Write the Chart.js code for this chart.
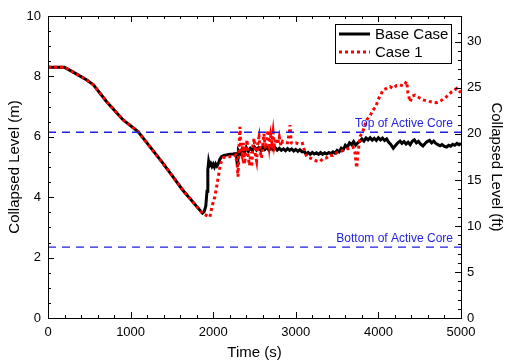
<!DOCTYPE html>
<html>
<head>
<meta charset="utf-8">
<script src="https://cdn.jsdelivr.net/npm/chart.js@4/dist/chart.umd.min.js"></script>
<style>
  html, body { margin: 0; padding: 0; background: #fff; }
  #wrap { width: 505px; height: 363px; }
</style>
</head>
<body>
<div id="wrap"><canvas id="levelChart"></canvas></div>
<script>
Chart.defaults.font.family = '"Liberation Sans", Arial, sans-serif';
Chart.defaults.color = '#000';

// ---- data ----
var baseTime = [0, 200, 300, 470, 550, 710, 910, 1090, 1390, 1480, 1630, 1870, 1890, 1910, 1925, 1935, 1945, 1955, 1970, 1985,
  2000, 2015, 2030, 2045, 2060, 2080, 2100, 2130, 2160, 2200, 2240, 2280, 2295, 2305, 2330, 2350, 2380, 2400, 2425, 2450,
  2475, 2500, 2525, 2550, 2575, 2600, 2625, 2650, 2675, 2700, 2725, 2750, 2775, 2800, 2825, 2850, 2875, 2900, 2925, 2950,
  2975, 3000, 3025, 3050, 3075, 3100, 3125, 3150, 3175, 3200, 3225, 3250, 3275, 3300, 3325, 3350, 3375, 3400, 3425, 3450,
  3475, 3500, 3525, 3550, 3575, 3600, 3625, 3650, 3675, 3700, 3725, 3750, 3775, 3800, 3825, 3850, 3875, 3900, 3925, 3950,
  3975, 4000, 4025, 4050, 4075, 4100, 4125, 4150, 4180, 4210, 4235, 4262, 4285, 4310, 4335, 4360, 4385, 4410, 4435, 4460,
  4485, 4510, 4540, 4565, 4590, 4620, 4645, 4670, 4695, 4720, 4746, 4770, 4800, 4826, 4850, 4875, 4900, 4925, 4950, 4975, 5000];
var baseLevel = [8.3, 8.3, 8.15, 7.88, 7.72, 7.16, 6.56, 6.17, 5.13, 4.8, 4.24, 3.47, 3.52, 3.7, 4.2, 4.9, 5.18, 5.05, 5.12, 5.02,
  5.1, 5.0, 5.1, 5.03, 5.1, 5.25, 5.34, 5.38, 5.4, 5.42, 5.43, 5.45, 5.0, 5.55, 5.45, 5.6, 5.5, 5.65, 5.52, 5.62,
  5.55, 5.66, 5.56, 5.64, 5.55, 5.66, 5.58, 5.65, 5.56, 5.63, 5.57, 5.64, 5.56, 5.62, 5.55, 5.6, 5.54, 5.61, 5.55, 5.6,
  5.53, 5.58, 5.52, 5.57, 5.5, 5.52, 5.43, 5.48, 5.42, 5.48, 5.43, 5.47, 5.42, 5.48, 5.42, 5.47, 5.43, 5.48, 5.44, 5.5,
  5.46, 5.55, 5.5, 5.62, 5.57, 5.72, 5.66, 5.8, 5.74, 5.84, 5.72, 5.8, 5.85, 5.93, 5.86, 5.96, 5.9, 5.97, 5.89, 5.95,
  5.88, 5.97, 5.9, 5.96, 5.88, 5.93, 5.82, 5.75, 5.62, 5.72, 5.8, 5.86, 5.78, 5.84, 5.76, 5.82, 5.74, 5.85, 5.9, 5.8,
  5.85, 5.76, 5.7, 5.78, 5.84, 5.88, 5.8, 5.86, 5.78, 5.74, 5.7, 5.74, 5.68, 5.66, 5.72, 5.69, 5.75, 5.72, 5.78, 5.74, 5.78];

var case1Time = [0, 200, 300, 470, 550, 710, 910, 1090, 1390, 1480, 1630, 1870, 1900, 1960, 1985, 2020, 2042, 2062, 2082, 2100,
  2122, 2160, 2200, 2240, 2270, 2290, 2300, 2310, 2324, 2335, 2350, 2365, 2380, 2395, 2410, 2425, 2440, 2455, 2466, 2480,
  2495, 2510, 2525, 2540, 2555, 2570, 2585, 2600, 2615, 2630, 2645, 2663, 2680, 2695, 2710, 2725, 2740, 2760, 2780, 2800,
  2820, 2840, 2870, 2900, 2920, 2930, 2945, 2970, 3000, 3040, 3080, 3110, 3132, 3170, 3210, 3250, 3293, 3330, 3370, 3414,
  3450, 3500, 3535, 3580, 3620, 3656, 3692, 3715, 3737, 3750, 3777, 3815, 3858, 3900, 3935, 3970, 3995, 4030, 4056, 4100,
  4140, 4180, 4220, 4262, 4300, 4342, 4358, 4383, 4410, 4443, 4490, 4540, 4600, 4650, 4705, 4760, 4826, 4887, 4948, 4988, 5000];
var case1Level = [8.3, 8.3, 8.15, 7.88, 7.72, 7.16, 6.56, 6.17, 5.13, 4.8, 4.24, 3.47, 3.42, 3.34, 3.69, 4.02, 4.35, 4.68, 5.01, 5.2,
  5.31, 5.33, 5.35, 5.32, 5.4, 5.1, 4.68, 5.5, 6.33, 5.6, 5.4, 5.8, 5.1, 5.6, 5.9, 5.3, 5.05, 5.5, 5.0, 5.7,
  5.95, 5.4, 5.2, 5.8, 6.0, 5.5, 5.3, 5.75, 6.1, 5.6, 5.85, 6.22, 5.7, 6.05, 5.8, 6.15, 5.7, 5.95, 5.75, 6.0,
  5.7, 5.85, 5.8, 5.8, 6.1, 6.39, 5.8, 5.78, 5.8, 5.75, 5.78, 5.5, 5.34, 5.3, 5.25, 5.2, 5.18, 5.28, 5.3, 5.4,
  5.38, 5.48, 5.51, 5.55, 5.6, 5.62, 5.67, 5.5, 4.97, 5.4, 6.0, 6.2, 6.56, 6.7, 6.89, 7.0, 7.22, 7.4, 7.55, 7.6,
  7.66, 7.6, 7.7, 7.72, 7.68, 7.83, 7.45, 7.16, 7.35, 7.38, 7.3, 7.22, 7.18, 7.15, 7.13, 7.2, 7.33, 7.49, 7.6, 7.49, 7.5];

var coreLevels = [6.15, 2.35];
var coreLabels = ['Top of Active Core', 'Bottom of Active Core'];
var seriesNames = ['Base Case', 'Case 1'];
var M_TO_FT = 3.28084;

function toPoints(xs, ys) {
  return xs.map(function (x, i) { return { x: x, y: ys[i] }; });
}
function near(v, step) {
  var r = v / step;
  return Math.abs(r - Math.round(r)) < 1e-6;
}

var datasets = [
  {
    label: seriesNames[0],
    data: toPoints(baseTime, baseLevel),
    borderColor: '#000',
    borderWidth: 3,
    pointRadius: 0,
    tension: 0,
    order: 2
  },
  {
    label: seriesNames[1],
    data: toPoints(case1Time, case1Level),
    borderColor: '#ff0000',
    borderWidth: 3,
    borderDash: [3, 3],
    pointRadius: 0,
    tension: 0,
    order: 1
  }
];
coreLevels.forEach(function (lv, i) {
  datasets.push({
    label: coreLabels[i],
    data: [{ x: 0, y: lv }, { x: 5000, y: lv }],
    borderColor: '#1f1fe0',
    borderWidth: 1.3,
    borderDash: [8, 6],
    pointRadius: 0,
    order: 0
  });
});

// inward ticks, frame, legend box and core labels
var decorPlugin = {
  id: 'decor',
  afterDatasetsDraw: function (chart) {
    var ctx = chart.ctx, a = chart.chartArea;
    var xs = chart.scales.x, ys = chart.scales.y, yf = chart.scales.y1;
    ctx.save();
    ctx.strokeStyle = '#000';
    ctx.lineWidth = 1;
    ctx.strokeRect(Math.round(a.left) + 0.5, Math.round(a.top) + 0.5,
      Math.round(a.right - a.left), Math.round(a.bottom - a.top));

    ctx.beginPath();
    xs.ticks.forEach(function (t) {
      var px = Math.round(xs.getPixelForValue(t.value)) + 0.5;
      var len = near(t.value, 1000) ? 6 : 3;
      ctx.moveTo(px, a.bottom); ctx.lineTo(px, a.bottom - len);
      ctx.moveTo(px, a.top); ctx.lineTo(px, a.top + len);
    });
    ys.ticks.forEach(function (t) {
      var py = Math.round(ys.getPixelForValue(t.value)) + 0.5;
      var len = near(t.value, 2) ? 6 : 3;
      ctx.moveTo(a.left, py); ctx.lineTo(a.left + len, py);
    });
    yf.ticks.forEach(function (t) {
      if (!near(t.value, 1)) return;
      var py = Math.round(yf.getPixelForValue(t.value)) + 0.5;
      var len = near(t.value, 5) ? 6 : 3;
      ctx.moveTo(a.right, py); ctx.lineTo(a.right - len, py);
    });
    ctx.stroke();

    // core labels
    ctx.fillStyle = '#1f1fe0';
    ctx.font = '12px "Liberation Sans", Arial, sans-serif';
    ctx.textAlign = 'right';
    ctx.textBaseline = 'alphabetic';
    coreLevels.forEach(function (lv, i) {
      var py = ys.getPixelForValue(lv);
      ctx.fillText(coreLabels[i], a.right - 8, py - 5);
    });

    // legend
    var lx = a.left + 287, ly = a.top + 8, lw = 116, lh = 39;
    ctx.fillStyle = '#fff';
    ctx.fillRect(lx, ly, lw, lh);
    ctx.strokeStyle = '#000';
    ctx.lineWidth = 1;
    ctx.strokeRect(lx + 0.5, ly + 0.5, lw, lh);
    ctx.font = '15px "Liberation Sans", Arial, sans-serif';
    ctx.textAlign = 'left';
    ctx.textBaseline = 'middle';
    [0, 1].forEach(function (i) {
      var ds = chart.data.datasets[i];
      var ry = ly + 10 + i * 18;
      ctx.beginPath();
      ctx.strokeStyle = ds.borderColor;
      ctx.lineWidth = ds.borderWidth;
      ctx.setLineDash(ds.borderDash || []);
      ctx.moveTo(lx + 4, ry); ctx.lineTo(lx + 35, ry);
      ctx.stroke();
      ctx.setLineDash([]);
      ctx.fillStyle = '#000';
      ctx.fillText(ds.label, lx + 40, ry + 1);
    });
    ctx.restore();
  }
};

var ctx = document.getElementById('levelChart').getContext('2d');
var levelChart = new Chart(ctx, {
  type: 'line',
  data: { datasets: datasets },
  plugins: [decorPlugin],
  options: {
    responsive: true,
    maintainAspectRatio: false,
    animation: false,
    layout: { padding: { top: 16, left: 0, right: 0, bottom: 0 } },
    scales: {
      x: {
        type: 'linear',
        min: 0, max: 5000,
        grid: { display: false, drawTicks: false },
        border: { display: false },
        ticks: {
          stepSize: 200, autoSkip: false, maxRotation: 0, padding: 7,
          font: { size: 13 },
          callback: function (v) { return near(v, 1000) ? String(v) : ''; }
        },
        title: { display: true, text: 'Time (s)', font: { size: 15 }, padding: { top: 2, bottom: 1 } },
        afterFit: function (s) { s.height = 45; }
      },
      y: {
        position: 'left',
        min: 0, max: 10,
        grid: { display: false, drawTicks: false },
        border: { display: false },
        ticks: {
          stepSize: 0.5, autoSkip: false, padding: 7,
          font: { size: 13 },
          callback: function (v) { return near(v, 2) ? String(v) : ''; }
        },
        title: { display: true, text: 'Collapsed Level (m)', font: { size: 15 }, padding: { top: 6, bottom: 2 } },
        afterFit: function (s) { s.width = 48; }
      },
      y1: {
        position: 'right',
        min: 0, max: 10 * M_TO_FT,
        grid: { display: false, drawTicks: false },
        border: { display: false },
        ticks: {
          stepSize: 1, autoSkip: false, padding: 6,
          font: { size: 13 },
          callback: function (v) { return near(v, 5) ? String(v) : ''; }
        },
        title: { display: true, text: 'Collapsed Level (ft)', font: { size: 15 }, padding: { top: 0, bottom: 2 } },
        afterFit: function (s) { s.width = 44; }
      }
    },
    plugins: {
      legend: { display: false },
      tooltip: { enabled: false }
    }
  }
});
</script>
</body>
</html>
